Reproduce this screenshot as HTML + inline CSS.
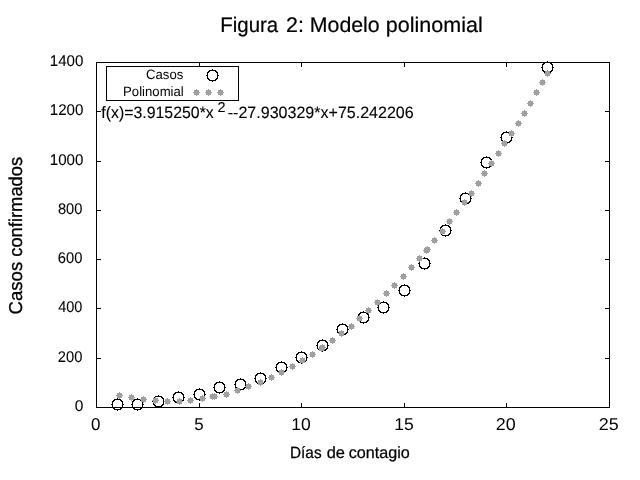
<!DOCTYPE html>
<html lang="es"><head><meta charset="utf-8"><title>Figura 2: Modelo polinomial</title>
<style>
html,body{margin:0;padding:0;background:#fff;}
body{width:640px;height:480px;overflow:hidden;}
svg{display:block;}
text{font-family:"Liberation Sans",Arial,Helvetica,sans-serif;fill:#000;text-rendering:geometricPrecision;stroke:#000;stroke-linejoin:round;white-space:pre;}
.ax{stroke:#000;stroke-width:1;fill:none;shape-rendering:crispEdges;}
.mk{stroke:none;shape-rendering:crispEdges;}
</style></head><body>
<svg width="640" height="480" viewBox="0 0 640 480">
<rect x="0" y="0" width="640" height="480" fill="#fff"/>
<rect class="ax" x="96.5" y="62.5" width="513.0" height="345.0"/>
<path class="ax" d="M199.5 407.5v-4.5M199.5 62.5v4.5M301.5 407.5v-4.5M301.5 62.5v4.5M404.5 407.5v-4.5M404.5 62.5v4.5M506.5 407.5v-4.5M506.5 62.5v4.5M96.5 358.5h4.5M609.5 358.5h-4.5M96.5 308.5h4.5M609.5 308.5h-4.5M96.5 259.5h4.5M609.5 259.5h-4.5M96.5 210.5h4.5M609.5 210.5h-4.5M96.5 161.5h4.5M609.5 161.5h-4.5M96.5 111.5h4.5M609.5 111.5h-4.5"/>
<text transform="translate(220.32 32.00) scale(0.9638 1)" font-size="21.2" stroke-width="0.2">Figura</text>
<text transform="translate(286.07 32.00) scale(1.0117 1)" font-size="21.2" stroke-width="0.2">2:</text>
<text transform="translate(309.75 32.00) scale(1.0067 1)" font-size="21.2" stroke-width="0.2">Modelo</text>
<text transform="translate(385.86 32.00) scale(1.0156 1)" font-size="21.2" stroke-width="0.2">polinomial</text>
<text transform="translate(289.99 457.80) scale(0.9434 1)" font-size="16.3" stroke-width="0.25">Días</text>
<text transform="translate(326.66 457.80) scale(1.0048 1)" font-size="16.3" stroke-width="0.25">de</text>
<text transform="translate(348.66 457.80) scale(0.9925 1)" font-size="16.3" stroke-width="0.25">contagio</text>
<text transform="translate(21.65 314.45) rotate(-90) scale(0.9989 1)" font-size="18.6" stroke-width="0.3">Casos</text>
<text transform="translate(21.65 256.78) rotate(-90) scale(0.9871 1)" font-size="18.6" stroke-width="0.3">confirmados</text>
<text transform="translate(146.08 78.80) scale(0.9732 1)" font-size="13.5" stroke-width="0">Casos</text>
<text transform="translate(123.11 95.80) scale(0.9733 1)" font-size="13.5" stroke-width="0">Polinomial</text>
<text transform="translate(101.33 117.85) scale(0.9613 1)" font-size="16.5" stroke-width="0.12">f(x)=3.915250*x</text>
<text transform="translate(217.52 112.00) scale(1.0143 1)" font-size="14.2" stroke-width="0.12">2</text>
<text transform="translate(227.74 117.85) scale(0.9722 1)" font-size="16.5" stroke-width="0.12">--27.930329*x+75.242206</text>
<text transform="translate(74.84 410.85) scale(0.9990 1)" font-size="15.5" stroke-width="0.08">0</text>
<text transform="translate(57.86 361.85) scale(0.9499 1)" font-size="15.5" stroke-width="0.08">200</text>
<text transform="translate(58.27 311.85) scale(0.9337 1)" font-size="15.5" stroke-width="0.08">400</text>
<text transform="translate(57.85 262.85) scale(0.9502 1)" font-size="15.5" stroke-width="0.08">600</text>
<text transform="translate(57.96 213.85) scale(0.9459 1)" font-size="15.5" stroke-width="0.08">800</text>
<text transform="translate(49.80 164.85) scale(0.9756 1)" font-size="15.5" stroke-width="0.08">1000</text>
<text transform="translate(49.80 114.85) scale(0.9756 1)" font-size="15.5" stroke-width="0.08">1200</text>
<text transform="translate(49.80 65.85) scale(0.9756 1)" font-size="15.5" stroke-width="0.08">1400</text>
<text transform="translate(91.09 429.75) scale(0.9912 1)" font-size="17.1" stroke-width="0">0</text>
<text transform="translate(194.15 429.75) scale(0.9855 1)" font-size="17.1" stroke-width="0">5</text>
<text transform="translate(291.16 429.75) scale(1.0236 1)" font-size="17.1" stroke-width="0">10</text>
<text transform="translate(394.16 429.75) scale(1.0266 1)" font-size="17.1" stroke-width="0">15</text>
<text transform="translate(495.75 429.75) scale(1.0463 1)" font-size="17.1" stroke-width="0">20</text>
<text transform="translate(598.75 429.75) scale(1.0493 1)" font-size="17.1" stroke-width="0">25</text>
<path class="mk" fill="#000" d="M114 399h7v1h-7zM114 409h7v1h-7zM112 401h1v7h-1zM122 401h1v7h-1zM113 400h2v1h-2zM120 400h2v1h-2zM113 408h2v1h-2zM120 408h2v1h-2zM113 401h1v1h-1zM121 401h1v1h-1zM113 407h1v1h-1zM121 407h1v1h-1zM117 398h1v1h-1zM117 410h1v1h-1zM111 404h1v1h-1zM123 404h1v1h-1zM134 399h7v1h-7zM134 409h7v1h-7zM132 401h1v7h-1zM142 401h1v7h-1zM133 400h2v1h-2zM140 400h2v1h-2zM133 408h2v1h-2zM140 408h2v1h-2zM133 401h1v1h-1zM141 401h1v1h-1zM133 407h1v1h-1zM141 407h1v1h-1zM137 398h1v1h-1zM137 410h1v1h-1zM131 404h1v1h-1zM143 404h1v1h-1zM155 396h7v1h-7zM155 406h7v1h-7zM153 398h1v7h-1zM163 398h1v7h-1zM154 397h2v1h-2zM161 397h2v1h-2zM154 405h2v1h-2zM161 405h2v1h-2zM154 398h1v1h-1zM162 398h1v1h-1zM154 404h1v1h-1zM162 404h1v1h-1zM158 395h1v1h-1zM158 407h1v1h-1zM152 401h1v1h-1zM164 401h1v1h-1zM175 392h7v1h-7zM175 402h7v1h-7zM173 394h1v7h-1zM183 394h1v7h-1zM174 393h2v1h-2zM181 393h2v1h-2zM174 401h2v1h-2zM181 401h2v1h-2zM174 394h1v1h-1zM182 394h1v1h-1zM174 400h1v1h-1zM182 400h1v1h-1zM178 391h1v1h-1zM178 403h1v1h-1zM172 397h1v1h-1zM184 397h1v1h-1zM196 389h7v1h-7zM196 399h7v1h-7zM194 391h1v7h-1zM204 391h1v7h-1zM195 390h2v1h-2zM202 390h2v1h-2zM195 398h2v1h-2zM202 398h2v1h-2zM195 391h1v1h-1zM203 391h1v1h-1zM195 397h1v1h-1zM203 397h1v1h-1zM199 388h1v1h-1zM199 400h1v1h-1zM193 394h1v1h-1zM205 394h1v1h-1zM216 382h7v1h-7zM216 392h7v1h-7zM214 384h1v7h-1zM224 384h1v7h-1zM215 383h2v1h-2zM222 383h2v1h-2zM215 391h2v1h-2zM222 391h2v1h-2zM215 384h1v1h-1zM223 384h1v1h-1zM215 390h1v1h-1zM223 390h1v1h-1zM219 381h1v1h-1zM219 393h1v1h-1zM213 387h1v1h-1zM225 387h1v1h-1zM237 379h7v1h-7zM237 389h7v1h-7zM235 381h1v7h-1zM245 381h1v7h-1zM236 380h2v1h-2zM243 380h2v1h-2zM236 388h2v1h-2zM243 388h2v1h-2zM236 381h1v1h-1zM244 381h1v1h-1zM236 387h1v1h-1zM244 387h1v1h-1zM240 378h1v1h-1zM240 390h1v1h-1zM234 384h1v1h-1zM246 384h1v1h-1zM257 373h7v1h-7zM257 383h7v1h-7zM255 375h1v7h-1zM265 375h1v7h-1zM256 374h2v1h-2zM263 374h2v1h-2zM256 382h2v1h-2zM263 382h2v1h-2zM256 375h1v1h-1zM264 375h1v1h-1zM256 381h1v1h-1zM264 381h1v1h-1zM260 372h1v1h-1zM260 384h1v1h-1zM254 378h1v1h-1zM266 378h1v1h-1zM278 362h7v1h-7zM278 372h7v1h-7zM276 364h1v7h-1zM286 364h1v7h-1zM277 363h2v1h-2zM284 363h2v1h-2zM277 371h2v1h-2zM284 371h2v1h-2zM277 364h1v1h-1zM285 364h1v1h-1zM277 370h1v1h-1zM285 370h1v1h-1zM281 361h1v1h-1zM281 373h1v1h-1zM275 367h1v1h-1zM287 367h1v1h-1zM298 352h7v1h-7zM298 362h7v1h-7zM296 354h1v7h-1zM306 354h1v7h-1zM297 353h2v1h-2zM304 353h2v1h-2zM297 361h2v1h-2zM304 361h2v1h-2zM297 354h1v1h-1zM305 354h1v1h-1zM297 360h1v1h-1zM305 360h1v1h-1zM301 351h1v1h-1zM301 363h1v1h-1zM295 357h1v1h-1zM307 357h1v1h-1zM319 340h7v1h-7zM319 350h7v1h-7zM317 342h1v7h-1zM327 342h1v7h-1zM318 341h2v1h-2zM325 341h2v1h-2zM318 349h2v1h-2zM325 349h2v1h-2zM318 342h1v1h-1zM326 342h1v1h-1zM318 348h1v1h-1zM326 348h1v1h-1zM322 339h1v1h-1zM322 351h1v1h-1zM316 345h1v1h-1zM328 345h1v1h-1zM339 324h7v1h-7zM339 334h7v1h-7zM337 326h1v7h-1zM347 326h1v7h-1zM338 325h2v1h-2zM345 325h2v1h-2zM338 333h2v1h-2zM345 333h2v1h-2zM338 326h1v1h-1zM346 326h1v1h-1zM338 332h1v1h-1zM346 332h1v1h-1zM342 323h1v1h-1zM342 335h1v1h-1zM336 329h1v1h-1zM348 329h1v1h-1zM360 312h7v1h-7zM360 322h7v1h-7zM358 314h1v7h-1zM368 314h1v7h-1zM359 313h2v1h-2zM366 313h2v1h-2zM359 321h2v1h-2zM366 321h2v1h-2zM359 314h1v1h-1zM367 314h1v1h-1zM359 320h1v1h-1zM367 320h1v1h-1zM363 311h1v1h-1zM363 323h1v1h-1zM357 317h1v1h-1zM369 317h1v1h-1zM380 302h7v1h-7zM380 312h7v1h-7zM378 304h1v7h-1zM388 304h1v7h-1zM379 303h2v1h-2zM386 303h2v1h-2zM379 311h2v1h-2zM386 311h2v1h-2zM379 304h1v1h-1zM387 304h1v1h-1zM379 310h1v1h-1zM387 310h1v1h-1zM383 301h1v1h-1zM383 313h1v1h-1zM377 307h1v1h-1zM389 307h1v1h-1zM401 285h7v1h-7zM401 295h7v1h-7zM399 287h1v7h-1zM409 287h1v7h-1zM400 286h2v1h-2zM407 286h2v1h-2zM400 294h2v1h-2zM407 294h2v1h-2zM400 287h1v1h-1zM408 287h1v1h-1zM400 293h1v1h-1zM408 293h1v1h-1zM404 284h1v1h-1zM404 296h1v1h-1zM398 290h1v1h-1zM410 290h1v1h-1zM421 258h7v1h-7zM421 268h7v1h-7zM419 260h1v7h-1zM429 260h1v7h-1zM420 259h2v1h-2zM427 259h2v1h-2zM420 267h2v1h-2zM427 267h2v1h-2zM420 260h1v1h-1zM428 260h1v1h-1zM420 266h1v1h-1zM428 266h1v1h-1zM424 257h1v1h-1zM424 269h1v1h-1zM418 263h1v1h-1zM430 263h1v1h-1zM442 225h7v1h-7zM442 235h7v1h-7zM440 227h1v7h-1zM450 227h1v7h-1zM441 226h2v1h-2zM448 226h2v1h-2zM441 234h2v1h-2zM448 234h2v1h-2zM441 227h1v1h-1zM449 227h1v1h-1zM441 233h1v1h-1zM449 233h1v1h-1zM445 224h1v1h-1zM445 236h1v1h-1zM439 230h1v1h-1zM451 230h1v1h-1zM462 193h7v1h-7zM462 203h7v1h-7zM460 195h1v7h-1zM470 195h1v7h-1zM461 194h2v1h-2zM468 194h2v1h-2zM461 202h2v1h-2zM468 202h2v1h-2zM461 195h1v1h-1zM469 195h1v1h-1zM461 201h1v1h-1zM469 201h1v1h-1zM465 192h1v1h-1zM465 204h1v1h-1zM459 198h1v1h-1zM471 198h1v1h-1zM483 157h7v1h-7zM483 167h7v1h-7zM481 159h1v7h-1zM491 159h1v7h-1zM482 158h2v1h-2zM489 158h2v1h-2zM482 166h2v1h-2zM489 166h2v1h-2zM482 159h1v1h-1zM490 159h1v1h-1zM482 165h1v1h-1zM490 165h1v1h-1zM486 156h1v1h-1zM486 168h1v1h-1zM480 162h1v1h-1zM492 162h1v1h-1zM503 132h7v1h-7zM503 142h7v1h-7zM501 134h1v7h-1zM511 134h1v7h-1zM502 133h2v1h-2zM509 133h2v1h-2zM502 141h2v1h-2zM509 141h2v1h-2zM502 134h1v1h-1zM510 134h1v1h-1zM502 140h1v1h-1zM510 140h1v1h-1zM506 131h1v1h-1zM506 143h1v1h-1zM500 137h1v1h-1zM512 137h1v1h-1zM544 62h7v1h-7zM544 72h7v1h-7zM542 64h1v7h-1zM552 64h1v7h-1zM543 63h2v1h-2zM550 63h2v1h-2zM543 71h2v1h-2zM550 71h2v1h-2zM543 64h1v1h-1zM551 64h1v1h-1zM543 70h1v1h-1zM551 70h1v1h-1zM547 61h1v1h-1zM547 73h1v1h-1zM541 67h1v1h-1zM553 67h1v1h-1z"/>
<path class="mk" fill="#a0a0a0" d="M117 393h5v5h-5zM119 392h1v1h-1zM119 398h1v1h-1zM116 395h1v1h-1zM122 395h1v1h-1zM129 395h5v5h-5zM131 394h1v1h-1zM131 400h1v1h-1zM128 397h1v1h-1zM134 397h1v1h-1zM141 397h5v5h-5zM143 396h1v1h-1zM143 402h1v1h-1zM140 399h1v1h-1zM146 399h1v1h-1zM153 398h5v5h-5zM155 397h1v1h-1zM155 403h1v1h-1zM152 400h1v1h-1zM158 400h1v1h-1zM165 399h5v5h-5zM167 398h1v1h-1zM167 404h1v1h-1zM164 401h1v1h-1zM170 401h1v1h-1zM177 399h5v5h-5zM179 398h1v1h-1zM179 404h1v1h-1zM176 401h1v1h-1zM182 401h1v1h-1zM188 398h5v5h-5zM190 397h1v1h-1zM190 403h1v1h-1zM187 400h1v1h-1zM193 400h1v1h-1zM200 396h5v5h-5zM202 395h1v1h-1zM202 401h1v1h-1zM199 398h1v1h-1zM205 398h1v1h-1zM210 394h5v5h-5zM212 393h1v1h-1zM212 399h1v1h-1zM209 396h1v1h-1zM215 396h1v1h-1zM212 394h5v5h-5zM214 393h1v1h-1zM214 399h1v1h-1zM211 396h1v1h-1zM217 396h1v1h-1zM224 392h5v5h-5zM226 391h1v1h-1zM226 397h1v1h-1zM223 394h1v1h-1zM229 394h1v1h-1zM235 388h5v5h-5zM237 387h1v1h-1zM237 393h1v1h-1zM234 390h1v1h-1zM240 390h1v1h-1zM246 384h5v5h-5zM248 383h1v1h-1zM248 389h1v1h-1zM245 386h1v1h-1zM251 386h1v1h-1zM258 380h5v5h-5zM260 379h1v1h-1zM260 385h1v1h-1zM257 382h1v1h-1zM263 382h1v1h-1zM269 375h5v5h-5zM271 374h1v1h-1zM271 380h1v1h-1zM268 377h1v1h-1zM274 377h1v1h-1zM279 370h5v5h-5zM281 369h1v1h-1zM281 375h1v1h-1zM278 372h1v1h-1zM284 372h1v1h-1zM290 364h5v5h-5zM292 363h1v1h-1zM292 369h1v1h-1zM289 366h1v1h-1zM295 366h1v1h-1zM300 358h5v5h-5zM302 357h1v1h-1zM302 363h1v1h-1zM299 360h1v1h-1zM305 360h1v1h-1zM310 352h5v5h-5zM312 351h1v1h-1zM312 357h1v1h-1zM309 354h1v1h-1zM315 354h1v1h-1zM320 345h5v5h-5zM322 344h1v1h-1zM322 350h1v1h-1zM319 347h1v1h-1zM325 347h1v1h-1zM330 338h5v5h-5zM332 337h1v1h-1zM332 343h1v1h-1zM329 340h1v1h-1zM335 340h1v1h-1zM339 331h5v5h-5zM341 330h1v1h-1zM341 336h1v1h-1zM338 333h1v1h-1zM344 333h1v1h-1zM349 324h5v5h-5zM351 323h1v1h-1zM351 329h1v1h-1zM348 326h1v1h-1zM354 326h1v1h-1zM357 316h5v5h-5zM359 315h1v1h-1zM359 321h1v1h-1zM356 318h1v1h-1zM362 318h1v1h-1zM366 308h5v5h-5zM368 307h1v1h-1zM368 313h1v1h-1zM365 310h1v1h-1zM371 310h1v1h-1zM375 300h5v5h-5zM377 299h1v1h-1zM377 305h1v1h-1zM374 302h1v1h-1zM380 302h1v1h-1zM384 291h5v5h-5zM386 290h1v1h-1zM386 296h1v1h-1zM383 293h1v1h-1zM389 293h1v1h-1zM392 283h5v5h-5zM394 282h1v1h-1zM394 288h1v1h-1zM391 285h1v1h-1zM397 285h1v1h-1zM401 274h5v5h-5zM403 273h1v1h-1zM403 279h1v1h-1zM400 276h1v1h-1zM406 276h1v1h-1zM409 265h5v5h-5zM411 264h1v1h-1zM411 270h1v1h-1zM408 267h1v1h-1zM414 267h1v1h-1zM417 256h5v5h-5zM419 255h1v1h-1zM419 261h1v1h-1zM416 258h1v1h-1zM422 258h1v1h-1zM425 247h5v5h-5zM427 246h1v1h-1zM427 252h1v1h-1zM424 249h1v1h-1zM430 249h1v1h-1zM432 238h5v5h-5zM434 237h1v1h-1zM434 243h1v1h-1zM431 240h1v1h-1zM437 240h1v1h-1zM440 229h5v5h-5zM442 228h1v1h-1zM442 234h1v1h-1zM439 231h1v1h-1zM445 231h1v1h-1zM447 219h5v5h-5zM449 218h1v1h-1zM449 224h1v1h-1zM446 221h1v1h-1zM452 221h1v1h-1zM454 210h5v5h-5zM456 209h1v1h-1zM456 215h1v1h-1zM453 212h1v1h-1zM459 212h1v1h-1zM462 200h5v5h-5zM464 199h1v1h-1zM464 205h1v1h-1zM461 202h1v1h-1zM467 202h1v1h-1zM469 191h5v5h-5zM471 190h1v1h-1zM471 196h1v1h-1zM468 193h1v1h-1zM474 193h1v1h-1zM476 181h5v5h-5zM478 180h1v1h-1zM478 186h1v1h-1zM475 183h1v1h-1zM481 183h1v1h-1zM482 171h5v5h-5zM484 170h1v1h-1zM484 176h1v1h-1zM481 173h1v1h-1zM487 173h1v1h-1zM489 161h5v5h-5zM491 160h1v1h-1zM491 166h1v1h-1zM488 163h1v1h-1zM494 163h1v1h-1zM496 151h5v5h-5zM498 150h1v1h-1zM498 156h1v1h-1zM495 153h1v1h-1zM501 153h1v1h-1zM502 141h5v5h-5zM504 140h1v1h-1zM504 146h1v1h-1zM501 143h1v1h-1zM507 143h1v1h-1zM509 131h5v5h-5zM511 130h1v1h-1zM511 136h1v1h-1zM508 133h1v1h-1zM514 133h1v1h-1zM516 121h5v5h-5zM518 120h1v1h-1zM518 126h1v1h-1zM515 123h1v1h-1zM521 123h1v1h-1zM522 111h5v5h-5zM524 110h1v1h-1zM524 116h1v1h-1zM521 113h1v1h-1zM527 113h1v1h-1zM528 101h5v5h-5zM530 100h1v1h-1zM530 106h1v1h-1zM527 103h1v1h-1zM533 103h1v1h-1zM534 90h5v5h-5zM536 89h1v1h-1zM536 95h1v1h-1zM533 92h1v1h-1zM539 92h1v1h-1zM540 80h5v5h-5zM542 79h1v1h-1zM542 85h1v1h-1zM539 82h1v1h-1zM545 82h1v1h-1zM545 71h5v5h-5zM547 70h1v1h-1zM547 76h1v1h-1zM544 73h1v1h-1zM550 73h1v1h-1zM424 248h5v5h-5zM426 247h1v1h-1zM426 253h1v1h-1zM423 250h1v1h-1zM429 250h1v1h-1zM319 346h5v5h-5zM321 345h1v1h-1zM321 351h1v1h-1zM318 348h1v1h-1zM324 348h1v1h-1z"/>
<rect class="ax" x="106.5" y="66.5" width="132.0" height="34.0"/>
<path class="mk" fill="#000" d="M209 70h7v1h-7zM209 80h7v1h-7zM207 72h1v7h-1zM217 72h1v7h-1zM208 71h2v1h-2zM215 71h2v1h-2zM208 79h2v1h-2zM215 79h2v1h-2zM208 72h1v1h-1zM216 72h1v1h-1zM208 78h1v1h-1zM216 78h1v1h-1zM212 69h1v1h-1zM212 81h1v1h-1zM206 75h1v1h-1zM218 75h1v1h-1z"/>
<path class="mk" fill="#a0a0a0" d="M194 90h5v5h-5zM196 89h1v1h-1zM196 95h1v1h-1zM193 92h1v1h-1zM199 92h1v1h-1zM206 90h5v5h-5zM208 89h1v1h-1zM208 95h1v1h-1zM205 92h1v1h-1zM211 92h1v1h-1zM218 90h5v5h-5zM220 89h1v1h-1zM220 95h1v1h-1zM217 92h1v1h-1zM223 92h1v1h-1z"/>
</svg>
</body></html>
